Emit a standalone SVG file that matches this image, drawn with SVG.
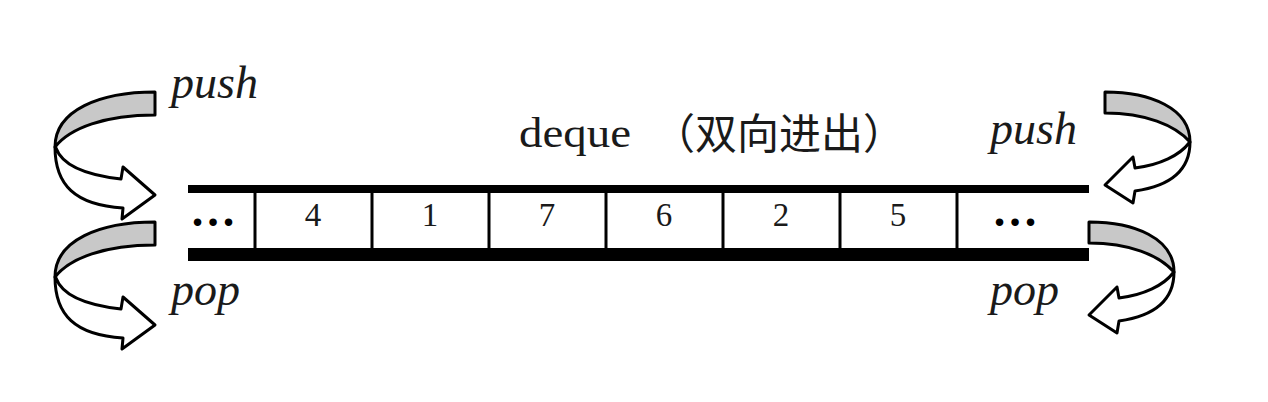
<svg xmlns="http://www.w3.org/2000/svg" width="1268" height="402" viewBox="0 0 1268 402">
<style>
.bar{fill:#000}
.div{fill:#000}
.num{font-family:"Liberation Serif","Times New Roman",serif;font-size:33px;fill:#1a1a1a;text-anchor:middle}
.dots{font-family:"Liberation Serif","Times New Roman",serif;font-size:46px;font-weight:bold;fill:#000;text-anchor:middle}
.lbl{font-family:"Liberation Serif","Times New Roman",serif;font-style:italic;font-size:46px;fill:#1a1a1a}
.title{font-family:"Liberation Serif","Times New Roman",serif;font-size:43px;fill:#1a1a1a}
.cjk{font-family:"Noto Sans CJK SC",sans-serif;font-size:42px;font-weight:normal}
.g{fill:#c8c8c8;stroke:#000;stroke-width:3;stroke-linejoin:round}
.w{fill:#fff;stroke:#000;stroke-width:3;stroke-linejoin:round}
</style>
<defs>
<g id="arrowL">
<path class="w" d="M56,148 C62,165 85,175 121,179 L123,167 L155,195 L122,219 L123,208 C75,205 55,185 55,147 Z"/>
<path class="g" d="M155,92 C100,92 55,110 55,147 C70,128 105,115 155,115 Z"/>
</g>
<g id="arrowR">
<path class="w" d="M1189,143 C1180,155 1160,165 1135,168 L1133,157 L1105,185 L1133,203 L1135,191 C1170,186 1190,170 1190,142 Z"/>
<path class="g" d="M1105,92 C1150,92 1190,108 1190,142 C1175,125 1145,113 1105,113 Z"/>
</g>
</defs>
<rect width="1268" height="402" fill="#fff"/>
<g id="deque">
<rect class="bar" x="188" y="185" width="901" height="8"/>
<rect class="bar" x="188" y="248" width="901" height="13"/>
<g id="cell0"><text class="dots" x="213" y="226">…</text></g>
<g id="cell1"><rect class="div" x="253.5" y="192" width="3" height="57"/><text class="num" x="313" y="226">4</text></g>
<g id="cell2"><rect class="div" x="370.5" y="192" width="3" height="57"/><text class="num" x="430" y="226">1</text></g>
<g id="cell3"><rect class="div" x="487.5" y="192" width="3" height="57"/><text class="num" x="547" y="226">7</text></g>
<g id="cell4"><rect class="div" x="604.5" y="192" width="3" height="57"/><text class="num" x="664" y="226">6</text></g>
<g id="cell5"><rect class="div" x="721.5" y="192" width="3" height="57"/><text class="num" x="781" y="226">2</text></g>
<g id="cell6"><rect class="div" x="838.5" y="192" width="3" height="57"/><text class="num" x="898" y="226">5</text></g>
<g id="cell7"><rect class="div" x="955.5" y="192" width="3" height="57"/><text class="dots" x="1015" y="226">…</text></g>
</g>
<g id="title"><text class="title" y="147"><tspan x="519" textLength="112" lengthAdjust="spacingAndGlyphs">deque</tspan><tspan class="cjk" x="653" y="149">（双向进出）</tspan></text></g>
<g id="labels">
<text id="push-left" class="lbl" x="171" y="98">push</text>
<text id="pop-left" class="lbl" x="171" y="305">pop</text>
<text id="push-right" class="lbl" x="990" y="144">push</text>
<text id="pop-right" class="lbl" x="990" y="305">pop</text>
</g>
<g id="connectors">
<use id="push-left-arrow" href="#arrowL"/>
<use id="pop-left-arrow" href="#arrowL" transform="translate(0,130)"/>
<use id="push-right-arrow" href="#arrowR"/>
<use id="pop-right-arrow" href="#arrowR" transform="translate(-16,130)"/>
</g>
</svg>
